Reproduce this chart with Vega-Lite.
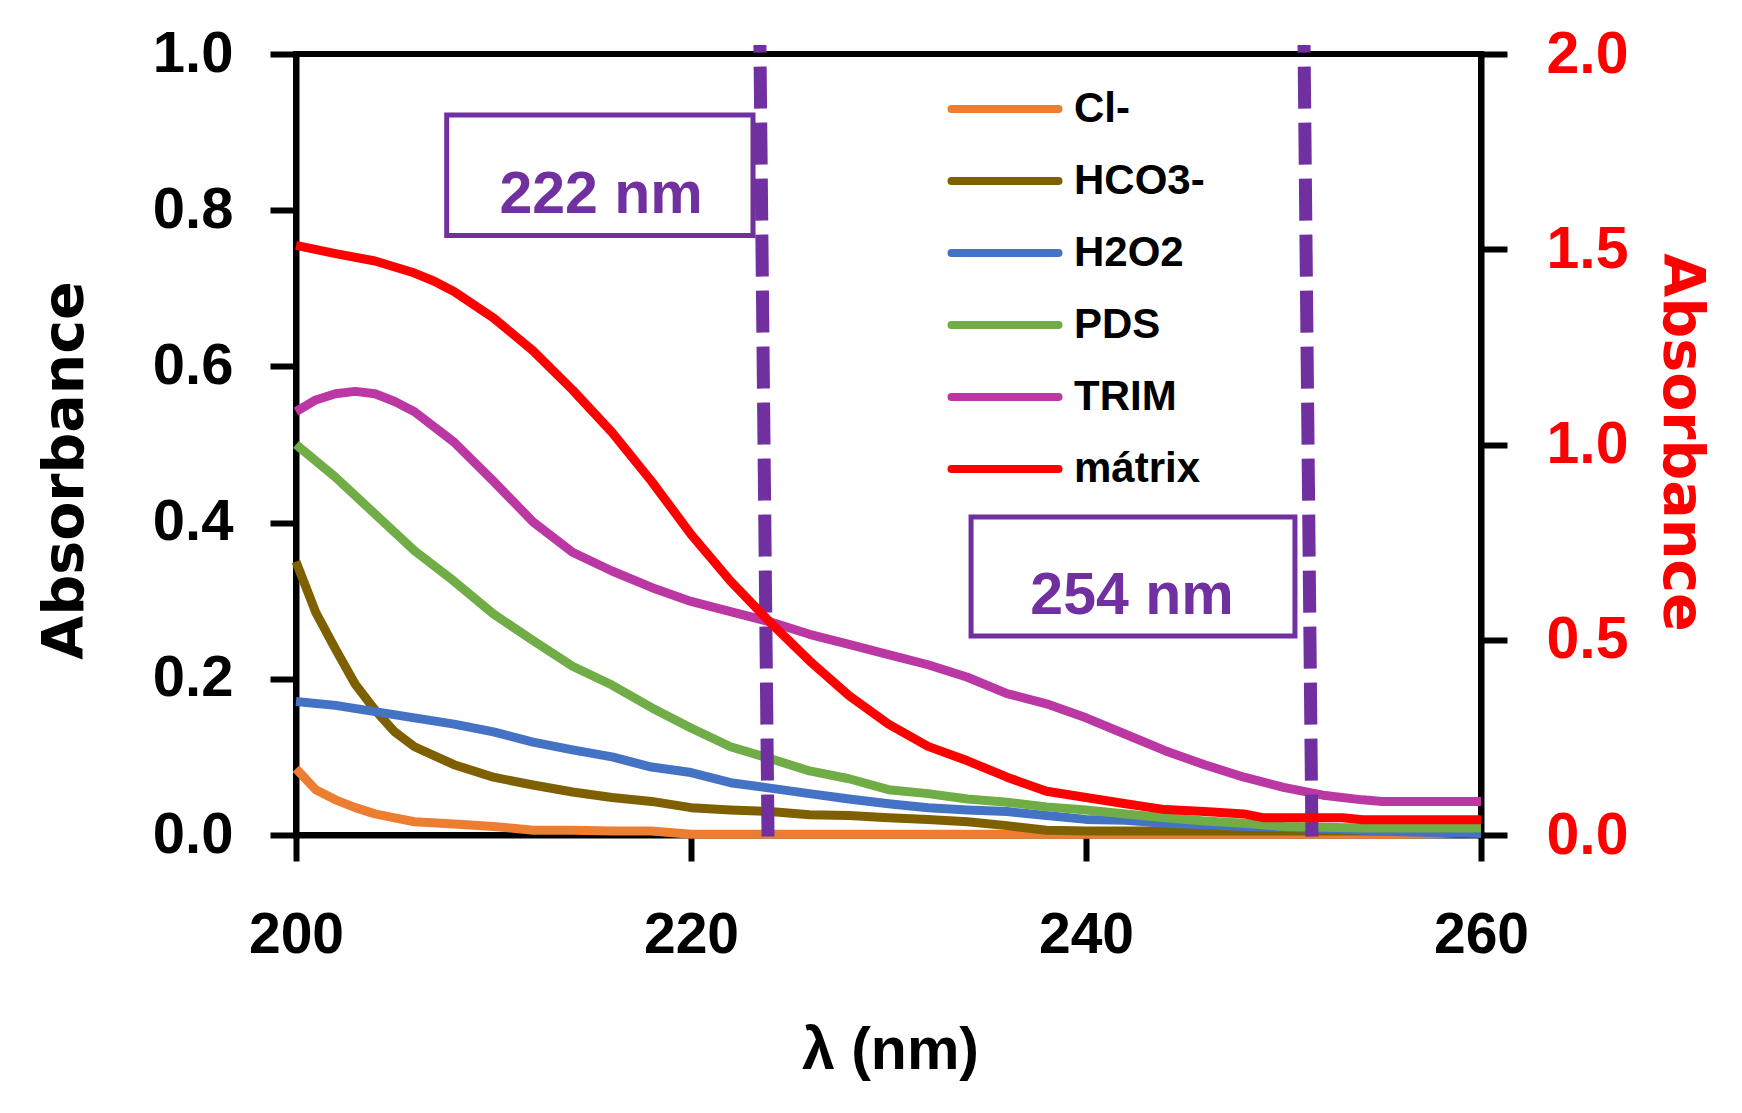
{
  "$schema": "https://vega.github.io/schema/vega-lite/v6.json",
  "width": 1185,
  "height": 781,
  "autosize": {"type": "none"},
  "padding": {"left": 296, "top": 54, "right": 261, "bottom": 278},
  "background": "white",
  "config": {
    "view": {"stroke": "black", "strokeWidth": 6},
    "axis": {
      "grid": false,
      "domainColor": "black",
      "domainWidth": 6,
      "domainCap": "square",
      "tickColor": "black",
      "tickWidth": 6,
      "tickSize": 26,
      "labelFont": "Liberation Sans",
      "labelFontWeight": "bold",
      "labelColor": "black",
      "labelOverlap": false,
      "labelFlush": false
    },
    "axisLeft": {
      "labelFontSize": 58,
      "labelPadding": 37,
      "titleFont": "DejaVu Sans",
      "titleFontWeight": "bold",
      "titleFontSize": 57,
      "titleColor": "black",
      "titleBaseline": "alphabetic",
      "titleAlign": "center",
      "titleX": -214,
      "titleY": 416
    },
    "axisRight": {
      "labelFontSize": 59,
      "labelPadding": 39,
      "labelColor": "#FF0000",
      "titleFont": "DejaVu Sans",
      "titleFontWeight": "bold",
      "titleFontSize": 57,
      "titleColor": "#FF0000",
      "titleAngle": 90,
      "titleBaseline": "alphabetic",
      "titleAlign": "center",
      "titleX": 182,
      "titleY": 388
    },
    "axisBottom": {
      "labelFontSize": 57,
      "labelPadding": 46,
      "titleFont": "Liberation Sans",
      "titleFontWeight": "bold",
      "titleFontSize": 59,
      "titleColor": "black",
      "titleBaseline": "alphabetic",
      "titleAlign": "center",
      "titleX": 594,
      "titleY": 233
    }
  },
  "datasets": {
    "spectra": [
      {"series": "Cl-", "wl": 200, "abs": 0.085},
      {"series": "Cl-", "wl": 201, "abs": 0.058},
      {"series": "Cl-", "wl": 202, "abs": 0.045},
      {"series": "Cl-", "wl": 203, "abs": 0.035},
      {"series": "Cl-", "wl": 204, "abs": 0.027},
      {"series": "Cl-", "wl": 205, "abs": 0.022},
      {"series": "Cl-", "wl": 206, "abs": 0.017},
      {"series": "Cl-", "wl": 208, "abs": 0.014},
      {"series": "Cl-", "wl": 210, "abs": 0.011},
      {"series": "Cl-", "wl": 212, "abs": 0.006},
      {"series": "Cl-", "wl": 214, "abs": 0.006},
      {"series": "Cl-", "wl": 216, "abs": 0.005},
      {"series": "Cl-", "wl": 218, "abs": 0.005},
      {"series": "Cl-", "wl": 220, "abs": 0.001},
      {"series": "Cl-", "wl": 226, "abs": 0.001},
      {"series": "Cl-", "wl": 232, "abs": 0.001},
      {"series": "Cl-", "wl": 238, "abs": 0.001},
      {"series": "Cl-", "wl": 244, "abs": 0.001},
      {"series": "Cl-", "wl": 250, "abs": 0.001},
      {"series": "Cl-", "wl": 256, "abs": 0.001},
      {"series": "Cl-", "wl": 258, "abs": 0.002},
      {"series": "Cl-", "wl": 260, "abs": 0.004},

      {"series": "HCO3-", "wl": 200, "abs": 0.350},
      {"series": "HCO3-", "wl": 201, "abs": 0.285},
      {"series": "HCO3-", "wl": 202, "abs": 0.238},
      {"series": "HCO3-", "wl": 203, "abs": 0.193},
      {"series": "HCO3-", "wl": 204, "abs": 0.160},
      {"series": "HCO3-", "wl": 205, "abs": 0.132},
      {"series": "HCO3-", "wl": 206, "abs": 0.113},
      {"series": "HCO3-", "wl": 208, "abs": 0.090},
      {"series": "HCO3-", "wl": 210, "abs": 0.074},
      {"series": "HCO3-", "wl": 212, "abs": 0.064},
      {"series": "HCO3-", "wl": 214, "abs": 0.055},
      {"series": "HCO3-", "wl": 216, "abs": 0.048},
      {"series": "HCO3-", "wl": 218, "abs": 0.043},
      {"series": "HCO3-", "wl": 220, "abs": 0.035},
      {"series": "HCO3-", "wl": 222, "abs": 0.032},
      {"series": "HCO3-", "wl": 224, "abs": 0.030},
      {"series": "HCO3-", "wl": 226, "abs": 0.026},
      {"series": "HCO3-", "wl": 228, "abs": 0.025},
      {"series": "HCO3-", "wl": 230, "abs": 0.022},
      {"series": "HCO3-", "wl": 232, "abs": 0.020},
      {"series": "HCO3-", "wl": 234, "abs": 0.017},
      {"series": "HCO3-", "wl": 236, "abs": 0.012},
      {"series": "HCO3-", "wl": 238, "abs": 0.006},
      {"series": "HCO3-", "wl": 240, "abs": 0.005},
      {"series": "HCO3-", "wl": 246, "abs": 0.005},
      {"series": "HCO3-", "wl": 252, "abs": 0.005},
      {"series": "HCO3-", "wl": 256, "abs": 0.005},
      {"series": "HCO3-", "wl": 258, "abs": 0.004},
      {"series": "HCO3-", "wl": 260, "abs": 0.004},

      {"series": "H2O2", "wl": 200, "abs": 0.171},
      {"series": "H2O2", "wl": 202, "abs": 0.166},
      {"series": "H2O2", "wl": 204, "abs": 0.158},
      {"series": "H2O2", "wl": 206, "abs": 0.150},
      {"series": "H2O2", "wl": 208, "abs": 0.142},
      {"series": "H2O2", "wl": 210, "abs": 0.132},
      {"series": "H2O2", "wl": 212, "abs": 0.119},
      {"series": "H2O2", "wl": 214, "abs": 0.109},
      {"series": "H2O2", "wl": 216, "abs": 0.100},
      {"series": "H2O2", "wl": 218, "abs": 0.087},
      {"series": "H2O2", "wl": 220, "abs": 0.080},
      {"series": "H2O2", "wl": 222, "abs": 0.067},
      {"series": "H2O2", "wl": 224, "abs": 0.060},
      {"series": "H2O2", "wl": 226, "abs": 0.053},
      {"series": "H2O2", "wl": 228, "abs": 0.046},
      {"series": "H2O2", "wl": 230, "abs": 0.040},
      {"series": "H2O2", "wl": 232, "abs": 0.035},
      {"series": "H2O2", "wl": 234, "abs": 0.032},
      {"series": "H2O2", "wl": 236, "abs": 0.030},
      {"series": "H2O2", "wl": 238, "abs": 0.025},
      {"series": "H2O2", "wl": 240, "abs": 0.020},
      {"series": "H2O2", "wl": 242, "abs": 0.019},
      {"series": "H2O2", "wl": 244, "abs": 0.015},
      {"series": "H2O2", "wl": 246, "abs": 0.013},
      {"series": "H2O2", "wl": 248, "abs": 0.011},
      {"series": "H2O2", "wl": 250, "abs": 0.010},
      {"series": "H2O2", "wl": 252, "abs": 0.008},
      {"series": "H2O2", "wl": 254, "abs": 0.006},
      {"series": "H2O2", "wl": 256, "abs": 0.004},
      {"series": "H2O2", "wl": 258, "abs": 0.003},
      {"series": "H2O2", "wl": 260, "abs": 0.002},

      {"series": "PDS", "wl": 200, "abs": 0.500},
      {"series": "PDS", "wl": 202, "abs": 0.458},
      {"series": "PDS", "wl": 204, "abs": 0.411},
      {"series": "PDS", "wl": 206, "abs": 0.364},
      {"series": "PDS", "wl": 208, "abs": 0.325},
      {"series": "PDS", "wl": 210, "abs": 0.283},
      {"series": "PDS", "wl": 212, "abs": 0.249},
      {"series": "PDS", "wl": 214, "abs": 0.216},
      {"series": "PDS", "wl": 216, "abs": 0.192},
      {"series": "PDS", "wl": 218, "abs": 0.163},
      {"series": "PDS", "wl": 220, "abs": 0.137},
      {"series": "PDS", "wl": 222, "abs": 0.113},
      {"series": "PDS", "wl": 224, "abs": 0.098},
      {"series": "PDS", "wl": 226, "abs": 0.082},
      {"series": "PDS", "wl": 228, "abs": 0.072},
      {"series": "PDS", "wl": 230, "abs": 0.058},
      {"series": "PDS", "wl": 232, "abs": 0.053},
      {"series": "PDS", "wl": 234, "abs": 0.046},
      {"series": "PDS", "wl": 236, "abs": 0.042},
      {"series": "PDS", "wl": 238, "abs": 0.036},
      {"series": "PDS", "wl": 240, "abs": 0.032},
      {"series": "PDS", "wl": 242, "abs": 0.027},
      {"series": "PDS", "wl": 244, "abs": 0.022},
      {"series": "PDS", "wl": 246, "abs": 0.018},
      {"series": "PDS", "wl": 248, "abs": 0.015},
      {"series": "PDS", "wl": 250, "abs": 0.011},
      {"series": "PDS", "wl": 252, "abs": 0.010},
      {"series": "PDS", "wl": 254, "abs": 0.009},
      {"series": "PDS", "wl": 256, "abs": 0.009},
      {"series": "PDS", "wl": 258, "abs": 0.009},
      {"series": "PDS", "wl": 260, "abs": 0.009},

      {"series": "TRIM", "wl": 200, "abs": 0.542},
      {"series": "TRIM", "wl": 201, "abs": 0.557},
      {"series": "TRIM", "wl": 202, "abs": 0.565},
      {"series": "TRIM", "wl": 203, "abs": 0.568},
      {"series": "TRIM", "wl": 204, "abs": 0.565},
      {"series": "TRIM", "wl": 205, "abs": 0.555},
      {"series": "TRIM", "wl": 206, "abs": 0.542},
      {"series": "TRIM", "wl": 208, "abs": 0.503},
      {"series": "TRIM", "wl": 210, "abs": 0.453},
      {"series": "TRIM", "wl": 212, "abs": 0.401},
      {"series": "TRIM", "wl": 214, "abs": 0.362},
      {"series": "TRIM", "wl": 216, "abs": 0.338},
      {"series": "TRIM", "wl": 218, "abs": 0.317},
      {"series": "TRIM", "wl": 220, "abs": 0.299},
      {"series": "TRIM", "wl": 222, "abs": 0.286},
      {"series": "TRIM", "wl": 224, "abs": 0.273},
      {"series": "TRIM", "wl": 226, "abs": 0.257},
      {"series": "TRIM", "wl": 228, "abs": 0.244},
      {"series": "TRIM", "wl": 230, "abs": 0.231},
      {"series": "TRIM", "wl": 232, "abs": 0.218},
      {"series": "TRIM", "wl": 234, "abs": 0.202},
      {"series": "TRIM", "wl": 236, "abs": 0.181},
      {"series": "TRIM", "wl": 238, "abs": 0.168},
      {"series": "TRIM", "wl": 240, "abs": 0.150},
      {"series": "TRIM", "wl": 242, "abs": 0.129},
      {"series": "TRIM", "wl": 244, "abs": 0.108},
      {"series": "TRIM", "wl": 246, "abs": 0.090},
      {"series": "TRIM", "wl": 248, "abs": 0.074},
      {"series": "TRIM", "wl": 250, "abs": 0.061},
      {"series": "TRIM", "wl": 252, "abs": 0.051},
      {"series": "TRIM", "wl": 254, "abs": 0.045},
      {"series": "TRIM", "wl": 255, "abs": 0.043},
      {"series": "TRIM", "wl": 258, "abs": 0.043},
      {"series": "TRIM", "wl": 260, "abs": 0.043},

      {"series": "mátrix", "wl": 200, "abs": 1.510},
      {"series": "mátrix", "wl": 202, "abs": 1.489},
      {"series": "mátrix", "wl": 204, "abs": 1.470},
      {"series": "mátrix", "wl": 206, "abs": 1.439},
      {"series": "mátrix", "wl": 207, "abs": 1.418},
      {"series": "mátrix", "wl": 208, "abs": 1.392},
      {"series": "mátrix", "wl": 210, "abs": 1.324},
      {"series": "mátrix", "wl": 212, "abs": 1.240},
      {"series": "mátrix", "wl": 214, "abs": 1.140},
      {"series": "mátrix", "wl": 216, "abs": 1.031},
      {"series": "mátrix", "wl": 218, "abs": 0.906},
      {"series": "mátrix", "wl": 220, "abs": 0.770},
      {"series": "mátrix", "wl": 222, "abs": 0.650},
      {"series": "mátrix", "wl": 224, "abs": 0.545},
      {"series": "mátrix", "wl": 226, "abs": 0.446},
      {"series": "mátrix", "wl": 228, "abs": 0.357},
      {"series": "mátrix", "wl": 230, "abs": 0.284},
      {"series": "mátrix", "wl": 232, "abs": 0.227},
      {"series": "mátrix", "wl": 234, "abs": 0.190},
      {"series": "mátrix", "wl": 236, "abs": 0.148},
      {"series": "mátrix", "wl": 238, "abs": 0.112},
      {"series": "mátrix", "wl": 240, "abs": 0.096},
      {"series": "mátrix", "wl": 242, "abs": 0.080},
      {"series": "mátrix", "wl": 244, "abs": 0.065},
      {"series": "mátrix", "wl": 246, "abs": 0.060},
      {"series": "mátrix", "wl": 248, "abs": 0.054},
      {"series": "mátrix", "wl": 249, "abs": 0.044},
      {"series": "mátrix", "wl": 253, "abs": 0.044},
      {"series": "mátrix", "wl": 254, "abs": 0.039},
      {"series": "mátrix", "wl": 260, "abs": 0.039}
    ],
    "boxes": [
      {"wl": 207.63, "wl2": 223.14, "abs": 0.7676, "abs2": 0.9219},
      {"wl": 234.18, "wl2": 250.58, "abs": 0.2548, "abs2": 0.4072}
    ],
    "cutoffs": [
      {"wl": 223.9, "wl2": 223.49, "abs": -0.002, "abs2": 1.0115},
      {"wl": 251.44, "wl2": 251.04, "abs": -0.002, "abs2": 1.0115}
    ],
    "notes": [
      {"wl": 215.45, "abs": 0.7967, "text": "222 nm"},
      {"wl": 242.33, "abs": 0.2831, "text": "254 nm"}
    ]
  },
  "encoding": {
    "x": {
      "field": "wl",
      "type": "quantitative",
      "scale": {"domain": [200, 260], "nice": false, "zero": false},
      "axis": {"values": [200, 220, 240, 260], "format": "d", "title": "λ (nm)"}
    }
  },
  "layer": [
    {
      "encoding": {
        "y": {
          "field": "abs",
          "type": "quantitative",
          "scale": {"domain": [0, 1], "nice": false, "zero": false},
          "axis": {"orient": "left", "values": [0, 0.2, 0.4, 0.6, 0.8, 1], "format": ".1f", "title": "Absorbance"}
        }
      },
      "layer": [
        {
          "data": {"name": "boxes"},
          "mark": {"type": "rect", "fill": "white", "fillOpacity": 0, "stroke": "#7030A0", "strokeWidth": 5},
          "encoding": {
            "x2": {"field": "wl2"},
            "y2": {"field": "abs2"}
          }
        },
        {
          "data": {"name": "spectra"},
          "transform": [{"filter": "datum.series !== 'mátrix'"}],
          "mark": {"type": "line", "strokeWidth": 9, "strokeJoin": "round"},
          "encoding": {
            "color": {
              "field": "series",
              "type": "nominal",
              "sort": null,
              "scale": {
                "domain": ["Cl-", "HCO3-", "H2O2", "PDS", "TRIM", "mátrix"],
                "range": ["#ED7D31", "#7F6000", "#4472C4", "#70AD47", "#BB37A3", "#FF0000"]
              },
              "legend": {
                "orient": "none",
                "legendX": 678,
                "legendY": 24,
                "title": null,
                "padding": 0,
                "symbolType": "M-2,0H2",
                "symbolSize": 2862,
                "symbolStrokeWidth": 8,
                "symbolOffset": 0,
                "labelFont": "Liberation Sans",
                "labelFontSize": 42,
                "labelFontWeight": "bold",
                "labelColor": "black",
                "labelOffset": 38,
                "labelLimit": 400,
                "rowPadding": 20,
                "encode": {"symbols": {"update": {"strokeCap": {"value": "round"}}}}
              }
            }
          }
        },
        {
          "data": {"name": "cutoffs"},
          "mark": {"type": "rule", "color": "#7030A0", "strokeWidth": 13, "strokeDash": [42, 14], "strokeCap": "butt"},
          "encoding": {
            "x2": {"field": "wl2"},
            "y2": {"field": "abs2"}
          }
        },
        {
          "data": {"name": "notes"},
          "mark": {
            "type": "text",
            "color": "#7030A0",
            "font": "Liberation Sans",
            "fontWeight": "bold",
            "fontSize": 59,
            "align": "center",
            "baseline": "alphabetic"
          },
          "encoding": {
            "text": {"field": "text"}
          }
        }
      ]
    },
    {
      "data": {"name": "spectra"},
      "transform": [{"filter": "datum.series === 'mátrix'"}],
      "mark": {"type": "line", "strokeWidth": 9, "strokeJoin": "round"},
      "encoding": {
        "y": {
          "field": "abs",
          "type": "quantitative",
          "scale": {"domain": [0, 2], "nice": false, "zero": false},
          "axis": {"orient": "right", "values": [0, 0.5, 1, 1.5, 2], "format": ".1f", "title": "Absorbance"}
        },
        "color": {
          "field": "series",
          "type": "nominal",
          "sort": null,
          "scale": {
            "domain": ["Cl-", "HCO3-", "H2O2", "PDS", "TRIM", "mátrix"],
            "range": ["#ED7D31", "#7F6000", "#4472C4", "#70AD47", "#BB37A3", "#FF0000"]
          }
        }
      }
    }
  ],
  "resolve": {"scale": {"y": "independent"}}
}
